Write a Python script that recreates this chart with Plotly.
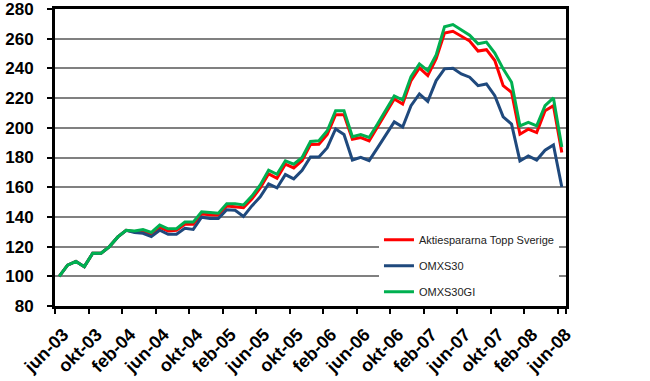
import plotly.graph_objects as go

month_names = ["jan", "feb", "mar", "apr", "maj", "jun", "jul", "aug", "sep", "okt", "nov", "dec"]
months = []
for k in range(61):
    m = (5 + k) % 12
    y = 3 + (5 + k) // 12
    months.append(f"{month_names[m]}-{y:02d}")

tick_labels = ["jun-03", "okt-03", "feb-04", "jun-04", "okt-04", "feb-05", "jun-05", "okt-05",
               "feb-06", "jun-06", "okt-06", "feb-07", "jun-07", "okt-07", "feb-08", "jun-08"]

topp_sverige = [100, 107.5, 110, 106.5, 115.5, 115.5, 120, 126.5, 131, 130, 130.5, 128.5, 133, 130.5, 131,
                135, 135, 142, 141.5, 141.3, 147.4, 147, 146.2, 152, 159.5, 169, 166, 175.5, 173, 178,
                188.7, 188.9, 195.5, 208.8, 208.8, 192.3, 193.4, 191.2, 200.3, 209.5, 219.4, 216, 231.8,
                240.4, 235.2, 246.5, 263.8, 265, 261.6, 258.4, 251.7, 252.6, 245.3, 228.4, 223.9, 195.7,
                199.1, 196.8, 211.5, 214.9, 183.3]

omxs30 = [100, 107.5, 110, 106.5, 115.5, 115.5, 120, 126.5, 131, 129.5, 129, 126.7, 131, 128.3, 128.3,
          132.3, 131.6, 139.8, 139, 138.9, 144.8, 144.5, 140.3, 147.4, 153.5, 162.2, 159.5, 168.5, 165.6,
          171.4, 180.4, 180.4, 186.6, 199.2, 195.5, 178.3, 180.1, 177.9, 186.5, 195.3, 204, 200.5, 214.9,
          222.8, 217.8, 231.8, 239.7, 240.1, 236.3, 234.1, 228.4, 229.5, 221.6, 207.4, 202.5, 177.7,
          181.1, 178.3, 184.9, 188.5, 160.1]

omxs30gi = [100, 107.5, 110, 106.5, 115.5, 115.5, 120, 126.5, 131, 130.5, 131.5, 129.5, 134.5, 132, 132,
            136.5, 136.5, 143.5, 143, 142.5, 148.8, 148.8, 148, 154, 161.5, 171.5, 168.7, 177.8, 175.5,
            180, 190.8, 191.3, 198, 211.5, 211.5, 194, 195.5, 193.5, 202.5, 212, 221.5, 218.7, 234.5,
            243, 238.5, 249, 268, 269.5, 266, 262.3, 256.6, 257.7, 250.3, 239.7, 230.7, 201.3, 203.6,
            201.3, 214.9, 220.1, 187]

series = [
    ("Aktiespararna Topp Sverige", topp_sverige, "#FF0000"),
    ("OMXS30", omxs30, "#1F497D"),
    ("OMXS30GI", omxs30gi, "#00B050"),
]

fig = go.Figure()
for i, (name, vals, color) in enumerate(series):
    fig.add_trace(go.Scatter(x=months, y=vals, name=name, mode="lines",
                             line=dict(color=color, width=3), legendgroup=f"g{i}"))

font_family = "Liberation Sans, Arial, sans-serif"

fig.update_layout(
    width=650, height=381,
    margin=dict(l=55, r=84, t=9, b=75),
    paper_bgcolor="white", plot_bgcolor="white",
    font=dict(family=font_family, color="black"),
    showlegend=True,
    legend=dict(x=0.634, y=0.272, xanchor="left", yanchor="top",
                bgcolor="white", borderwidth=0, font=dict(size=11, color="#222222", family=font_family),
                tracegroupgap=7, itemwidth=30, traceorder="grouped"),
    xaxis=dict(type="category", categoryorder="array", categoryarray=months,
               range=[-0.5, 60.5], tickmode="array", tickvals=tick_labels, ticktext=tick_labels,
               tickson="boundaries", ticks="outside", ticklen=5, tickwidth=2, tickcolor="black",
               tickangle=-45, tickfont=dict(size=18, weight="bold", family=font_family, color="black"),
               ticklabelstandoff=8, ticklabelshift=4,
               showgrid=False, showline=True, linewidth=3, linecolor="black", mirror=True,
               zeroline=False, automargin=False, ticklabeloverflow="allow"),
    yaxis=dict(range=[80, 280], dtick=20, tick0=80, showgrid=True, gridcolor="#808080", gridwidth=2,
               showline=True, linewidth=3, linecolor="black", mirror=True,
               ticks="outside", ticklen=5, tickwidth=2, tickcolor="black",
               tickfont=dict(size=17, weight="bold", family=font_family, color="black"),
               ticklabelstandoff=10,
               zeroline=False, automargin=False, ticklabeloverflow="allow"),
)

fig.write_html("out.html", config={"displayModeBar": False},
               post_script="document.body.style.margin='0';document.body.style.padding='0';")
